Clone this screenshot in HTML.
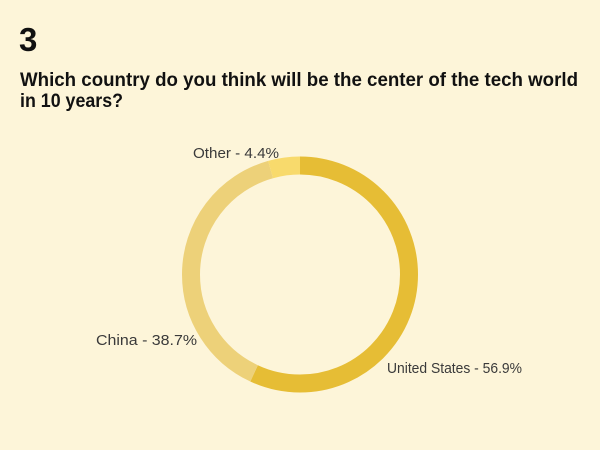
<!DOCTYPE html>
<html><head><meta charset="utf-8"><style>
html,body{margin:0;padding:0;background:#fdf5d9;}
svg{display:block}
</style></head><body>
<svg width="600" height="450" viewBox="0 0 600 450" xmlns="http://www.w3.org/2000/svg">
<rect width="600" height="450" fill="#fdf5d9"/>
<text x="19" y="51" font-family="Liberation Sans, sans-serif" font-weight="bold" font-size="33" fill="#111">3</text>
<text x="20" y="86" font-family="Liberation Sans, sans-serif" font-weight="bold" font-size="19" fill="#111" textLength="558" lengthAdjust="spacingAndGlyphs">Which country do you think will be the center of the tech world</text>
<text x="20" y="107" font-family="Liberation Sans, sans-serif" font-weight="bold" font-size="19" fill="#111" textLength="103" lengthAdjust="spacingAndGlyphs">in 10 years?</text>
<g transform="rotate(-90 300 274.5)" fill="none" stroke-width="18">
<circle cx="300" cy="274.5" r="109" stroke="#e6bd35" stroke-dasharray="389.7 1000" stroke-dashoffset="0"/>
<circle cx="300" cy="274.5" r="109" stroke="#edd179" stroke-dasharray="265.1 1000" stroke-dashoffset="-389.7"/>
<circle cx="300" cy="274.5" r="109" stroke="#f8da6c" stroke-dasharray="30.1 1000" stroke-dashoffset="-654.8"/>
</g>
<g font-family="Liberation Sans, sans-serif" font-size="15" fill="#3a3a3a">
<text x="193" y="158" textLength="86" lengthAdjust="spacingAndGlyphs">Other  - 4.4%</text>
<text x="96" y="345" textLength="101" lengthAdjust="spacingAndGlyphs">China - 38.7%</text>
<text x="387" y="373" textLength="135" lengthAdjust="spacingAndGlyphs">United States - 56.9%</text>
</g>
</svg>
</body></html>
